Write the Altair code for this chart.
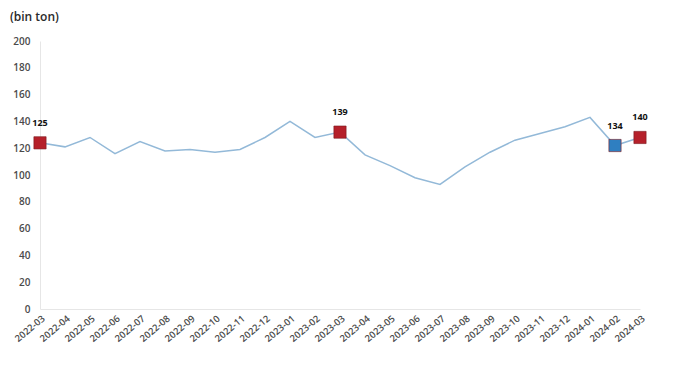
import altair as alt
import pandas as pd

months = ["2022-03","2022-04","2022-05","2022-06","2022-07","2022-08","2022-09","2022-10",
          "2022-11","2022-12","2023-01","2023-02","2023-03","2023-04","2023-05","2023-06",
          "2023-07","2023-08","2023-09","2023-10","2023-11","2023-12","2024-01","2024-02","2024-03"]
values = [124, 121, 128, 116, 125, 118, 119, 117, 119, 128, 140, 128, 132, 115, 107, 98,
          93, 106, 117, 126, 131, 136, 143, 122, 128]

marked_months = ["2022-03", "2023-03", "2024-02", "2024-03"]
marked_labels = ["125", "139", "134", "140"]
marked_colors = ["#b5202a", "#b5202a", "#2f7fc1", "#b5202a"]
unit_title = ["(bin ton)"]

df = pd.DataFrame({"month": months, "value": values})
vals = dict(zip(months, values))
mk = pd.DataFrame({"month": marked_months,
                   "value": [vals[m] for m in marked_months],
                   "label": marked_labels,
                   "color": marked_colors})

x = alt.X("month:O", sort=months, scale=alt.Scale(type="point", padding=0),
          axis=alt.Axis(title=None, labelAngle=-40, labelAlign="right", labelBaseline="top",
                        labelColor="#4a4a4a", labelFontSize=9.5, labelFont="Open Sans",
                        labelFontWeight=600,
                        ticks=False, domainColor="#e6e6e6", labelPadding=4, labelOverlap=False))
y = alt.Y("value:Q", scale=alt.Scale(domain=[0, 200]),
          axis=alt.Axis(values=list(range(0, 201, 20)), grid=False, ticks=False,
                        labelColor="#4a4a4a", labelFontSize=10, labelFont="Open Sans",
                        labelFontWeight=600, labelOverlap=False,
                        labelPadding=10, domainColor="#e6e6e6", title=None))

line = alt.Chart(df).mark_line(color="#93b9d8", strokeWidth=1.5).encode(x=x, y=y)
points = alt.Chart(mk).mark_square(size=150, opacity=1, stroke="#7a1a1f", strokeWidth=0.6).encode(
    x=x, y=y, color=alt.Color("color:N", scale=None))
labels = alt.Chart(mk).mark_text(dy=-20, fontSize=9, fontWeight="bold", color="#111111",
                                 font="Open Sans").encode(x=x, y=y, text="label:N")
title = alt.Chart(pd.DataFrame({"t": unit_title})).mark_text(
    align="left", baseline="bottom", fontSize=12, fontWeight=600, color="#2a2a2a",
    font="Open Sans", clip=False).encode(x=alt.value(-30), y=alt.value(-17), text="t:N")

chart = (line + points + labels + title).properties(
    width=600, height=268,
    autosize=alt.AutoSizeParams(type="none"),
    padding={"left": 32, "top": 33, "right": 30, "bottom": 60},
    background="white",
).configure_view(stroke=None, strokeWidth=0)

chart.save("out.html", embed_options={"renderer": "svg", "actions": False})
